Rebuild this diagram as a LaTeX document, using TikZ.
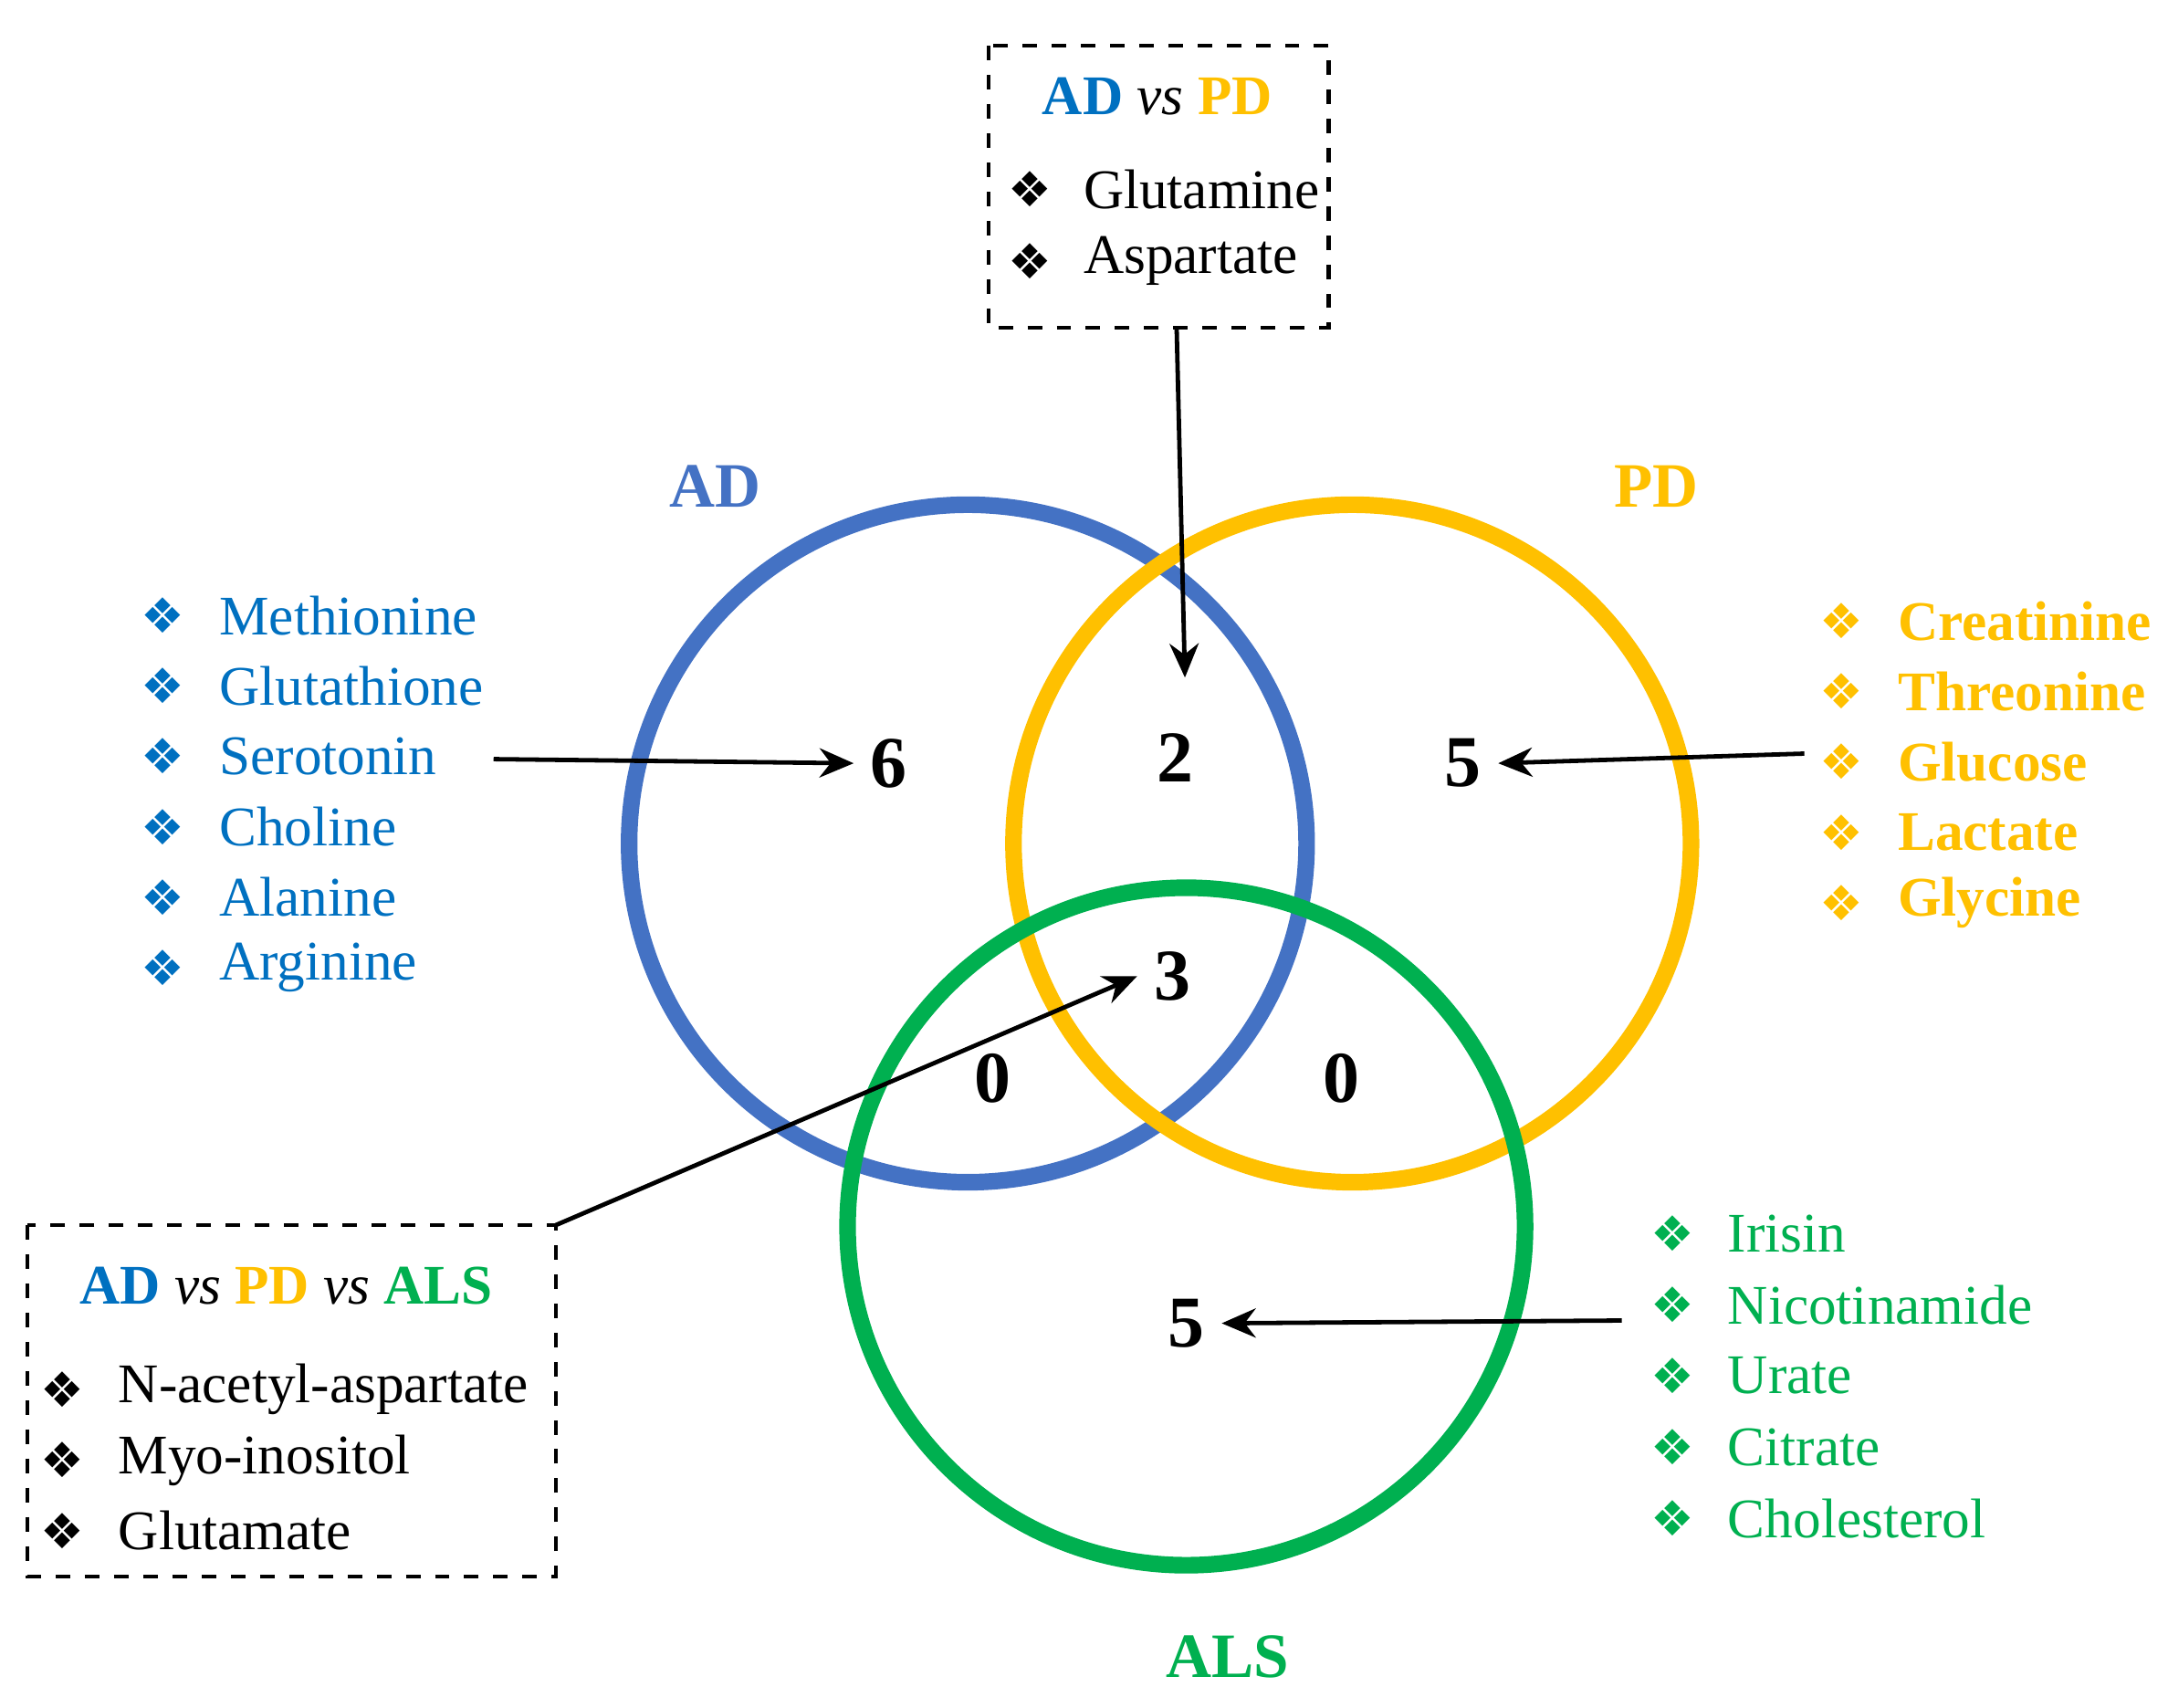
\documentclass[tikz,border=0pt]{standalone}
\usepackage{fontspec}
\setmainfont{Liberation Serif}
\newfontfamily\dv{DejaVu Sans}
\usetikzlibrary{arrows.meta}
\definecolor{adb}{HTML}{4472C4}
\definecolor{adt}{HTML}{0070C0}
\definecolor{pdy}{HTML}{FFC000}
\definecolor{alsg}{HTML}{00B050}
\begin{document}
\begin{tikzpicture}[x=0.01cm,y=-0.01cm,
  ring/.style={line width=0.12cm},
  num/.style={font=\fontsize{15}{15}\selectfont\bfseries},
  item/.style={anchor=west,font=\fontsize{11.5}{13}\selectfont,inner sep=0},
  bul/.style={font=\dv\fontsize{10}{12}\selectfont,inner sep=0},
  ttl/.style={font=\fontsize{11.5}{13}\selectfont\bfseries},
  box/.style={draw,dashed,line width=0.8pt},
  arr/.style={-{Stealth[length=7pt,width=6pt]},line width=0.9pt}]
\useasboundingbox (0,0) rectangle (1568,1235);
\draw[ring,adb] (700,610) circle (245);
\draw[ring,pdy] (978,610) circle (245);
\draw[ring,alsg] (858,887) circle (245);
\node[ttl,adb,font=\fontsize{13}{13}\selectfont\bfseries] (lad) at (517,352) {AD};
\node[ttl,pdy,font=\fontsize{13}{13}\selectfont\bfseries] (lpd) at (1198,352) {PD};
\node[ttl,alsg,font=\fontsize{13}{13}\selectfont\bfseries] (lals) at (888,1198) {ALS};
\node[num] (n6) at (643,552) {6};
\node[num] (n2) at (850,548) {2};
\node[num] (n5a) at (1058,552) {5};
\node[num] (n3) at (848,706) {3};
\node[num] (n0a) at (718,780) {0};
\node[num] (n0b) at (970,780) {0};
\node[num] (n5b) at (858,957) {5};
% top box
\draw[box] (715,33) rectangle (961,237);
\node[ttl] (t1) at (837,70) {\textcolor{adt}{AD} \textit{\mdseries vs} \textcolor{pdy}{PD}};
\node[bul] at (745,137) {❖}; \node[item] at (783,137) {Glutamine};
\node[bul] at (745,189) {❖}; \node[item] at (783,189) {Aspartate};
\coordinate (tb) at (851,237);
\draw[arr] (tb) -- (857,490);
% left list
\foreach \t [count=\i from 0] in {Methionine,Glutathione,Serotonin,Choline,Alanine,Arginine}{
  \node[bul,adt] at (118,445+51*\i) {❖};
  \node[item,adt] at (158,445+51*\i) {\t};}
\coordinate (la) at (357,549);
\draw[arr] (la) -- (n6.west);
% right list
\foreach \t [count=\i from 0] in {Creatinine,Threonine,Glucose,Lactate,Glycine}{
  \node[bul,pdy] at (1332,449+51*\i) {❖};
  \node[item,pdy,font=\fontsize{11.5}{13}\selectfont\bfseries] at (1372,449+51*\i) {\t};}
\coordinate (ra) at (1305,545);
\draw[arr] (ra) -- (n5a.east);
% green list
\foreach \t [count=\i from 0] in {Irisin,Nicotinamide,Urate,Citrate,Cholesterol}{
  \node[bul,alsg] at (1210,892+51.5*\i) {❖};
  \node[item,alsg] at (1249,892+51.5*\i) {\t};}
\coordinate (ga) at (1173,955);
\draw[arr] (ga) -- (n5b.east);
% bottom box
\draw[box] (20,886) rectangle (402,1140);
\node[ttl] (t2) at (207,930) {\textcolor{adt}{AD} \textit{\mdseries vs} \textcolor{pdy}{PD} \textit{\mdseries vs} \textcolor{alsg}{ALS}};
\foreach \t [count=\i from 0] in {N-acetyl-aspartate,Myo-inositol,Glutamate}{
  \node[bul] at (45,1005+51*\i) {❖};
  \node[item] at (85,1005+51*\i) {\t};}
\coordinate (bb) at (402,886);
\draw[arr] (bb) -- (n3.west);
\end{tikzpicture}
\end{document}
